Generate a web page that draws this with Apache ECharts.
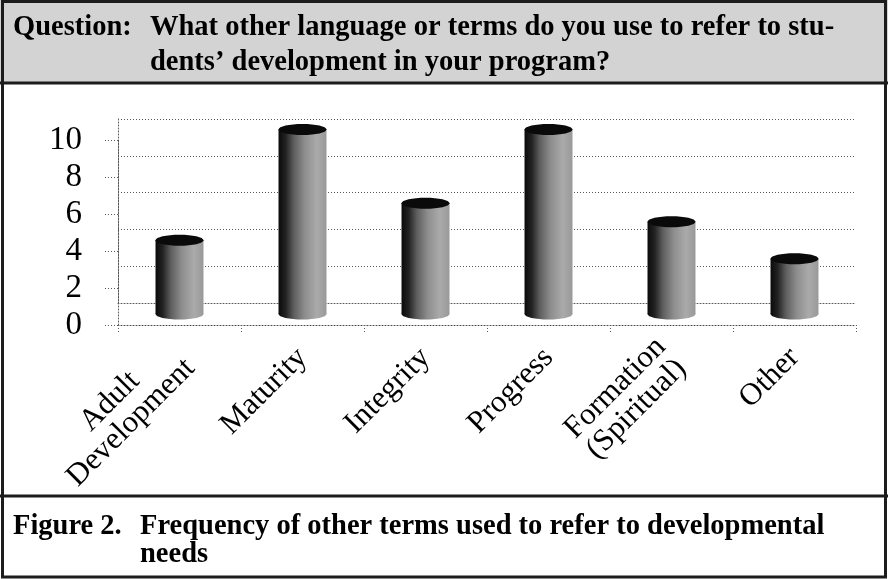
<!DOCTYPE html>
<html>
<head>
<meta charset="utf-8">
<title>Frequency of other terms</title>
<script src="https://cdn.jsdelivr.net/npm/echarts@6/dist/echarts.min.js"></script>
<style>
  html, body { margin: 0; padding: 0; background: #fff; }
  #chart { width: 888px; height: 579px; }
</style>
</head>
<body>
<div id="chart"></div>
<script>
// data
var categories = ["Adult\nDevelopment", "Maturity", "Integrity", "Progress", "Formation\n(Spiritual)", "Other"];
var counts = [4, 10, 6, 10, 5, 3];
var yTicks = [0, 2, 4, 6, 8, 10];

var questionLabel = "Question:";
var questionLines = ["What other language or terms do you use to refer to stu-", "dents\u2019 development in your program?"];
var figureLabel = "Figure 2.";
var figureLines = ["Frequency of other terms used to refer to developmental", "needs"];

var serif = '"Liberation Serif", "Times New Roman", serif';
var boldFont = 'bold 28.5px ' + serif;
var dotted = { color: "#5a5a5a", type: [1, 2], width: 1 };

var chart = echarts.init(document.getElementById("chart"));

// cylinder drawn from the bar grid's own scale
function renderCylinder(params, api) {
  var top = api.coord([api.value(0), api.value(1)]);
  var base = api.coord([api.value(0), 0]);
  var w = api.size([1, 0])[0] * 0.39;
  var rx = w / 2, ry = 5.5;
  var body = new echarts.graphic.LinearGradient(0, 0, 1, 0, [
    { offset: 0, color: "#0a0a0a" },
    { offset: 0.15, color: "#222" },
    { offset: 0.32, color: "#5e5e5e" },
    { offset: 0.55, color: "#8e8e8e" },
    { offset: 0.8, color: "#aaa" },
    { offset: 1, color: "#999" }
  ]);
  return {
    type: "group",
    children: [
      { type: "ellipse", shape: { cx: top[0], cy: base[1], rx: rx, ry: ry }, style: { fill: body } },
      { type: "rect", shape: { x: top[0] - rx, y: top[1], width: w, height: base[1] - top[1] }, style: { fill: body } },
      { type: "ellipse", shape: { cx: top[0], cy: top[1], rx: rx, ry: ry }, style: { fill: "#0a0a0a" } }
    ]
  };
}

function richLines(v) {
  return v.split("\n").map(function (l) { return "{c|" + l + "}"; }).join("\n");
}

var option = {
  animation: false,
  backgroundColor: "#fff",
  graphic: [
    { type: "rect", z: -10, shape: { x: 0, y: 0, width: 888, height: 83 }, style: { fill: "#d3d3d3" } },
    { type: "line", z: 10, shape: { x1: 0, y1: 83, x2: 888, y2: 83 }, style: { stroke: "#1c1c1c", lineWidth: 3 } },
    { type: "line", z: 10, shape: { x1: 0, y1: 496, x2: 888, y2: 496 }, style: { stroke: "#1c1c1c", lineWidth: 3 } },
    { type: "rect", z: 10, shape: { x: 2.5, y: 1.5, width: 883, height: 575.5 }, style: { fill: null, stroke: "#1c1c1c", lineWidth: 3 } },
    { type: "text", x: 13, y: 27.5, style: { text: questionLabel, font: boldFont, fill: "#000", verticalAlign: "middle" } },
    { type: "text", x: 150, y: 27.5, style: { text: questionLines[0], font: boldFont, fill: "#000", verticalAlign: "middle" } },
    { type: "text", x: 150, y: 62.5, style: { text: questionLines[1], font: boldFont, fill: "#000", verticalAlign: "middle" } },
    { type: "text", x: 13, y: 527, style: { text: figureLabel, font: boldFont, fill: "#000", verticalAlign: "middle" } },
    { type: "text", x: 140, y: 527, style: { text: figureLines[0], font: boldFont, fill: "#000", verticalAlign: "middle" } },
    { type: "text", x: 140, y: 555, style: { text: figureLines[1], font: boldFont, fill: "#000", verticalAlign: "middle" } }
  ],
  grid: [
    { left: 118, top: 119, width: 738, height: 184 },   // back wall
    { left: 118, top: 140, width: 738, height: 185 },   // front axis
    { left: 118, top: 129.5, width: 738, height: 184.5 } // cylinders
  ],
  xAxis: [
    {
      gridIndex: 0, type: "category", data: categories,
      axisLine: { show: true, lineStyle: dotted },
      axisTick: { show: false }, axisLabel: { show: false }
    },
    {
      gridIndex: 1, type: "category", data: categories,
      axisLine: { show: true, lineStyle: { color: "#444", type: [1, 2], width: 1 } },
      axisTick: { show: true, length: 8, lineStyle: dotted },
      axisLabel: {
        interval: 0, rotate: 45, margin: 28, color: "#000",
        fontFamily: serif, fontSize: 31,
        formatter: richLines,
        rich: { c: { align: "center", fontFamily: serif, fontSize: 31, lineHeight: 30, color: "#000" } }
      }
    },
    { gridIndex: 2, type: "category", data: categories, show: false }
  ],
  yAxis: [
    {
      gridIndex: 0, type: "value", min: 0, max: 10, interval: 2,
      axisLine: { show: true, lineStyle: dotted },
      axisTick: { show: false }, axisLabel: { show: false },
      splitLine: { show: true, lineStyle: dotted }
    },
    {
      gridIndex: 1, type: "value", min: 0, max: 10, interval: 2,
      axisLine: { show: true, lineStyle: dotted },
      axisTick: { show: true, length: 13, lineStyle: dotted },
      splitLine: { show: false },
      axisLabel: {
        margin: 36, color: "#000", fontFamily: serif, fontSize: 33,
        formatter: function (v) { return yTicks.indexOf(v) >= 0 ? String(v) : ""; }
      }
    },
    { gridIndex: 2, type: "value", min: 0, max: 10, show: false }
  ],
  series: [
    {
      type: "custom",
      xAxisIndex: 2, yAxisIndex: 2,
      renderItem: renderCylinder,
      data: counts.map(function (v, i) { return [i, v]; }),
      z: 5
    }
  ]
};

chart.setOption(option);
</script>
</body>
</html>
